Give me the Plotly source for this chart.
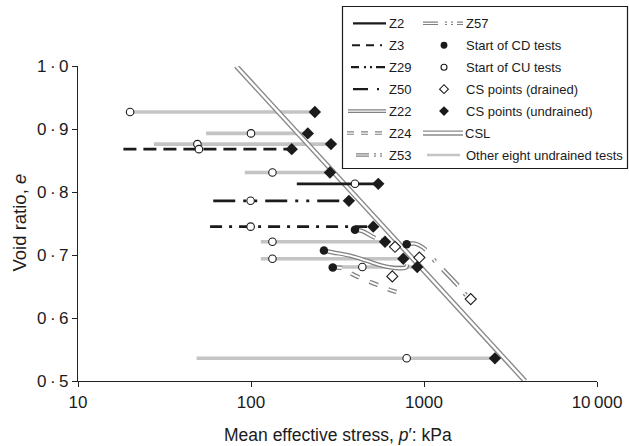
import plotly.graph_objects as go

W, H = 629, 446
FONT = "Liberation Sans, Arial, sans-serif"

# ---------------- data ----------------
# Eight further undrained tests (constant void ratio)
other_e = [0.927, 0.893, 0.876, 0.831, 0.721, 0.694, 0.681, 0.536]
other_p_left = [20, 55, 27.5, 92, 114, 114, 280, 48.5]
other_p_start = [20, 100, 49, 133, 133, 133, 440, 794]
other_p_cs = [234, 213, 290, 286, 595, 759, 914, 2570]

# Named undrained (CU) tests
cu_names = ["Z2", "Z3", "Z29", "Z50"]
cu_e = [0.813, 0.868, 0.786, 0.745]
cu_p_left = [184, 18.3, 60.5, 58]
cu_p_start = [399, 50, 99.5, 99.5]
cu_p_cs = [544, 172, 368, 509]

# Named drained (CD) test paths
z22_p = [264, 299, 373, 466, 557, 651, 726, 787, 799]
z22_e = [0.707, 0.704, 0.699, 0.691, 0.684, 0.680, 0.679, 0.680, 0.685]
z24_p = [297, 340, 389, 480, 569, 660, 753]
z24_e = [0.680, 0.679, 0.669, 0.658, 0.650, 0.643, 0.639]
z53_p = [399, 440, 514, 600, 680]
z53_e = [0.740, 0.738, 0.728, 0.720, 0.713]
z57_p = [794, 887, 1028, 1160, 1295, 1580, 1742, 1862]
z57_e = [0.717, 0.718, 0.708, 0.690, 0.676, 0.651, 0.637, 0.630]

# Critical state points reached in the drained tests
cs_drained_p = [940, 656, 680, 1862]
cs_drained_e = [0.696, 0.666, 0.713, 0.630]

# Critical state line
csl_p = [82, 3840]
csl_e = [1.0, 0.5]

x_tick_vals = [10, 100, 1000, 10000]
x_tick_text = ["10", "100", "1000", "10\u2009000"]
y_tick_vals = [0.5, 0.6, 0.7, 0.8, 0.9, 1.0]
y_tick_text = ["0\u2009\u00b7\u20095", "0\u2009\u00b7\u20096", "0\u2009\u00b7\u20097",
               "0\u2009\u00b7\u20098", "0\u2009\u00b7\u20099", "1\u2009\u00b7\u20090"]

# ---------------- styles ----------------
BLACK = "#1b1b1b"
GREY_LINE = "#c4c4c4"
DOUBLE_OUT = "#808080"
# dash: pattern along the test paths; key: pattern for the short key samples
STYLE = {
    "Z2": dict(kind="single", dash="solid", key="solid"),
    "Z3": dict(kind="single", dash="13px,7px", key="8px,6px,8px,6px,2px,6px"),
    "Z29": dict(kind="single", dash="22px,8px,3px,8px,3px,8px",
                key="8px,5px,2px,4px,2px,4px,9px"),
    "Z50": dict(kind="single", dash="12px,7px,3px,7px", key="15px,9px,2px,20px"),
    "Z22": dict(kind="double", dash="solid", key="solid"),
    "Z24": dict(kind="double", dash="9px,11px", key="7px,7px"),
    "Z53": dict(kind="double", dash="22px,6px,2px,5px,2px,6px",
                key="13px,5px,2px,4px,2px,10px"),
    "Z57": dict(kind="double", dash="21px,12px,3px,11px,22px,10px,3px,10px",
                key="15px,7px,2px,4px,2px,4px,9px"),
}

fig = go.Figure()


def add_path(x, y, kind, dash, xa="x", ya="y", single_w=2.7, outer_w=4.4, inner_w=1.9):
    if kind == "single":
        fig.add_trace(go.Scatter(x=x, y=y, mode="lines", xaxis=xa, yaxis=ya,
                                 line=dict(color=BLACK, width=single_w, dash=dash),
                                 showlegend=False, hoverinfo="skip"))
    else:
        fig.add_trace(go.Scatter(x=x, y=y, mode="lines", xaxis=xa, yaxis=ya,
                                 line=dict(color=DOUBLE_OUT, width=outer_w, dash=dash,
                                           shape="spline"),
                                 showlegend=False, hoverinfo="skip"))
        fig.add_trace(go.Scatter(x=x, y=y, mode="lines", xaxis=xa, yaxis=ya,
                                 line=dict(color="white", width=inner_w, dash=dash,
                                           shape="spline"),
                                 showlegend=False, hoverinfo="skip"))


def add_csl(x, y, xa="x", ya="y"):
    fig.add_trace(go.Scatter(x=x, y=y, mode="lines", xaxis=xa, yaxis=ya,
                             line=dict(color="#8a8a8a", width=5.2),
                             showlegend=False, hoverinfo="skip"))
    fig.add_trace(go.Scatter(x=x, y=y, mode="lines", xaxis=xa, yaxis=ya,
                             line=dict(color="white", width=2.4),
                             showlegend=False, hoverinfo="skip"))


# grey undrained tests
for e, p0, p1 in zip(other_e, other_p_left, other_p_cs):
    fig.add_trace(go.Scatter(x=[p0, p1], y=[e, e], mode="lines",
                             line=dict(color=GREY_LINE, width=3.6),
                             showlegend=False, hoverinfo="skip"))

# critical state line
add_csl(csl_p, csl_e)

# named undrained tests
for name, e, p0, p1 in zip(cu_names, cu_e, cu_p_left, cu_p_cs):
    add_path([p0, p1], [e, e], STYLE[name]["kind"], STYLE[name]["dash"])

# named drained tests
drained = {"Z22": (z22_p, z22_e), "Z24": (z24_p, z24_e),
           "Z53": (z53_p, z53_e), "Z57": (z57_p, z57_e)}
for name, (px, ey) in drained.items():
    add_path(px, ey, STYLE[name]["kind"], STYLE[name]["dash"])

# markers
cd_start_p = [v[0][0] for v in drained.values()]
cd_start_e = [v[1][0] for v in drained.values()]
open_circle = dict(symbol="circle", size=7.5, color="white", line=dict(color=BLACK, width=1.1))
filled_circle = dict(symbol="circle", size=8.5, color=BLACK, line=dict(color=BLACK, width=0))
open_diamond = dict(symbol="diamond", size=8.5, color="white", line=dict(color=BLACK, width=1.1))
filled_diamond = dict(symbol="diamond", size=9.5, color=BLACK, line=dict(color=BLACK, width=0))

fig.add_trace(go.Scatter(x=cd_start_p, y=cd_start_e, mode="markers", marker=filled_circle,
                         showlegend=False, hoverinfo="skip"))
fig.add_trace(go.Scatter(x=other_p_start + cu_p_start, y=other_e + cu_e, mode="markers",
                         marker=open_circle, showlegend=False, hoverinfo="skip"))
fig.add_trace(go.Scatter(x=cs_drained_p, y=cs_drained_e, mode="markers", marker=open_diamond,
                         showlegend=False, hoverinfo="skip"))
fig.add_trace(go.Scatter(x=other_p_cs + cu_p_cs, y=other_e + cu_e, mode="markers",
                         marker=filled_diamond, showlegend=False, hoverinfo="skip"))

# ---------------- key (drawn on a pixel overlay axis) ----------------
row_y0, row_dy = 23.3, 21.95
left_rows = [("Z2", 353), ("Z3", 352), ("Z29", 351), ("Z50", 353),
             ("Z22", 348), ("Z24", 347), ("Z53", 356)]
left_end, left_text = 386, 386.5
right_marker_x, right_text = 444, 464
annos = []
for i, (name, x0) in enumerate(left_rows):
    y = row_y0 + i * row_dy
    add_path([x0, left_end], [y, y], STYLE[name]["kind"], STYLE[name]["key"],
             xa="x2", ya="y2", single_w=2.2, outer_w=3.6, inner_w=1.2)
    annos.append(dict(x=left_text, y=y, xref="x2", yref="y2", text=name,
                      xanchor="left", yanchor="middle", showarrow=False))

# right column
y = row_y0
add_path([423, 463], [y, y], STYLE["Z57"]["kind"], STYLE["Z57"]["key"],
         xa="x2", ya="y2", outer_w=3.6, inner_w=1.2)
annos.append(dict(x=right_text, y=y, xref="x2", yref="y2", text="Z57",
                  xanchor="left", yanchor="middle", showarrow=False))
marker_rows = [("Start of CD tests", filled_circle), ("Start of CU tests", open_circle),
               ("CS points (drained)", open_diamond), ("CS points (undrained)", filled_diamond)]
for i, (label, mk) in enumerate(marker_rows, start=1):
    y = row_y0 + i * row_dy
    m = dict(mk)
    m["size"] = mk["size"] * 0.8
    fig.add_trace(go.Scatter(x=[right_marker_x], y=[y], mode="markers", xaxis="x2", yaxis="y2",
                             marker=m, showlegend=False, hoverinfo="skip"))
    annos.append(dict(x=right_text, y=y, xref="x2", yref="y2", text=label,
                      xanchor="left", yanchor="middle", showarrow=False))
y = row_y0 + 5 * row_dy
add_csl([423, 463], [y, y], xa="x2", ya="y2")
annos.append(dict(x=right_text - 1, y=y, xref="x2", yref="y2", text="CSL",
                  xanchor="left", yanchor="middle", showarrow=False))
y = row_y0 + 6 * row_dy
fig.add_trace(go.Scatter(x=[427, 460], y=[y, y], mode="lines", xaxis="x2", yaxis="y2",
                         line=dict(color=GREY_LINE, width=2.4), showlegend=False,
                         hoverinfo="skip"))
annos.append(dict(x=right_text, y=y, xref="x2", yref="y2", text="Other eight undrained tests",
                  xanchor="left", yanchor="middle", showarrow=False))
for a in annos:
    a["font"] = dict(family=FONT, size=13, color="#1b1b1b")

# axis titles
annos.append(dict(x=337.5, y=435, xref="x2", yref="y2",
                  text="Mean effective stress, <i>p</i>\u2032: kPa", showarrow=False,
                  xanchor="center", yanchor="middle",
                  font=dict(family=FONT, size=17.5, color="#1b1b1b")))
annos.append(dict(x=18.5, y=223, xref="x2", yref="y2", text="Void ratio, <i>e</i>",
                  textangle=-90, showarrow=False, xanchor="center", yanchor="middle",
                  font=dict(family=FONT, size=18.5, color="#1b1b1b")))

x_left, x_right, y_top, y_bot = 78, 597, 66, 381
axis_common = dict(showline=True, linecolor="#222", linewidth=1.3, ticks="outside",
                   ticklen=5, tickwidth=1.2, tickcolor="#222", showgrid=False,
                   zeroline=False, mirror=False, automargin=False, fixedrange=True,
                   tickfont=dict(family=FONT, size=17, color="#1b1b1b"))

fig.update_layout(
    width=W, height=H,
    margin=dict(l=0, r=0, t=0, b=0),
    paper_bgcolor="white", plot_bgcolor="rgba(0,0,0,0)",
    showlegend=False,
    xaxis=dict(type="log", range=[1, 4], domain=[x_left / W, x_right / W], anchor="y",
               tickvals=x_tick_vals, ticktext=x_tick_text, **axis_common),
    yaxis=dict(range=[0.5, 1.0], domain=[1 - y_bot / H, 1 - y_top / H], anchor="x",
               tickvals=y_tick_vals, ticktext=y_tick_text, **axis_common),
    xaxis2=dict(domain=[0, 1], range=[0, W], visible=False, anchor="y2", fixedrange=True),
    yaxis2=dict(domain=[0, 1], range=[H, 0], visible=False, anchor="x2", fixedrange=True),
    shapes=[dict(type="rect", xref="x2", yref="y2", x0=342.5, x1=627.5, y0=6.5, y1=168.5,
                 line=dict(color="#1b1b1b", width=1.2), fillcolor="rgba(0,0,0,0)",
                 layer="above")],
    annotations=annos,
)

fig.write_html("out.html")
